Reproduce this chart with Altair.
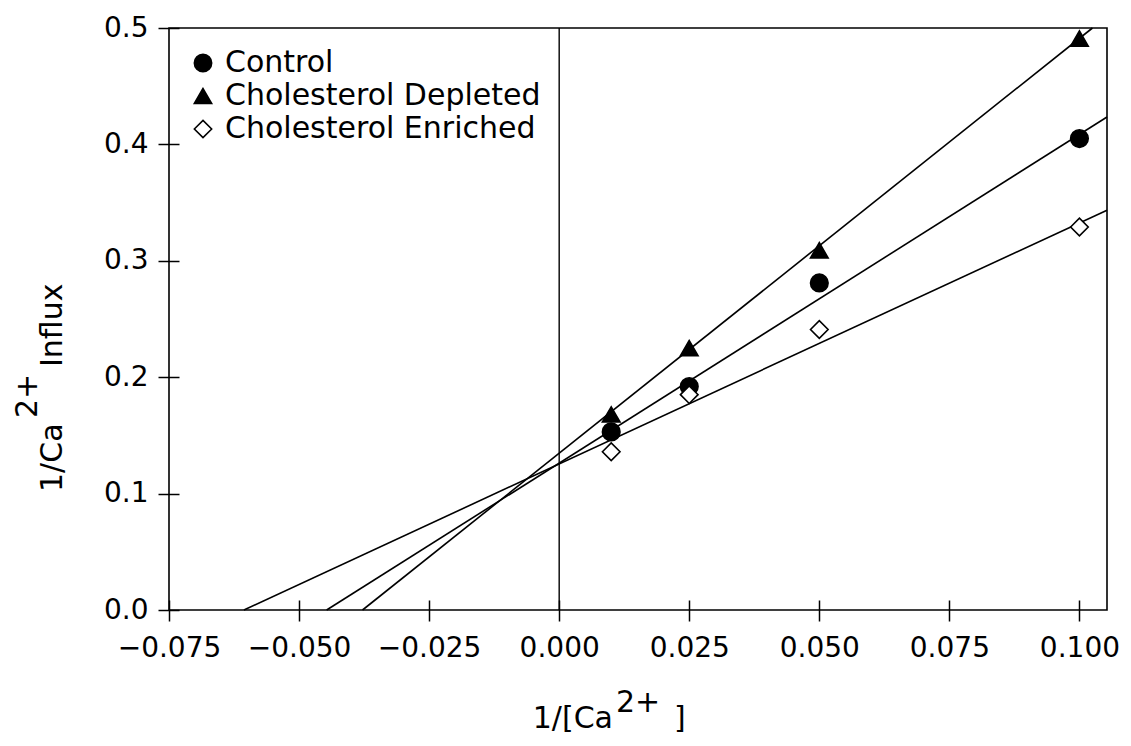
import altair as alt
import pandas as pd

# ---- data ----
series_names = ["Control", "Cholesterol Depleted", "Cholesterol Enriched"]
x_values = [0.01, 0.025, 0.05, 0.1]
control_y = [0.153, 0.192, 0.281, 0.405]
depleted_y = [0.168, 0.225, 0.309, 0.491]
enriched_y = [0.136, 0.185, 0.241, 0.329]

# fitted lines: start at the x-intercept (y = 0), end at the frame
line_x_start = [-0.0447, -0.0378, -0.0606]
line_y_start = [0.0, 0.0, 0.0]
line_x_end = [0.1053, 0.1025, 0.1053]
line_y_end = [0.4235, 0.5, 0.3435]

zero_line = [0.0]

x_ticks = [-0.075, -0.05, -0.025, 0.0, 0.025, 0.05, 0.075, 0.1]
y_ticks = [0.0, 0.1, 0.2, 0.3, 0.4, 0.5]

shapes = ["circle", "triangle-up", "diamond"]
fills = ["black", "black", "white"]
strokes = ["black", "black", "black"]

# ---- tables ----
rows = []
for name, ys in zip(series_names, [control_y, depleted_y, enriched_y]):
    for x, y in zip(x_values, ys):
        rows.append({"series": name, "x": x, "y": y})
points_df = pd.DataFrame(rows)

lrows = []
for name, x0, y0, x1, y1 in zip(series_names, line_x_start, line_y_start, line_x_end, line_y_end):
    lrows.append({"series": name, "x": x0, "y": y0})
    lrows.append({"series": name, "x": x1, "y": y1})
lines_df = pd.DataFrame(lrows)

zero_df = pd.DataFrame({"x": zero_line})

FONT = "DejaVu Sans"

x_scale = alt.Scale(domain=[-0.075, 0.1053], nice=False, zero=False)
y_scale = alt.Scale(domain=[0.0, 0.5], nice=False, zero=False)

x_axis = alt.Axis(values=x_ticks, format=".3f", title=None, grid=False, domain=False,
                  offset=-10, tickSize=21, tickWidth=1.5, tickColor="black",
                  labelFont=FONT, labelFontSize=28, labelColor="black",
                  labelPadding=13, labelFlush=False, labelOverlap=False)
y_axis = alt.Axis(values=y_ticks, format=".1f", title=None, grid=False, domain=False,
                  offset=-10, tickSize=21, tickWidth=1.5, tickColor="black",
                  labelFont=FONT, labelFontSize=28, labelColor="black",
                  labelPadding=10, labelFlush=False, labelOverlap=False)

lines = alt.Chart(lines_df).mark_line(color="black", strokeWidth=1.6).encode(
    x=alt.X("x:Q", scale=x_scale, axis=x_axis),
    y=alt.Y("y:Q", scale=y_scale, axis=y_axis),
    detail="series:N",
)

zero_rule = alt.Chart(zero_df).mark_rule(color="black", strokeWidth=1.4).encode(
    x=alt.X("x:Q", scale=x_scale),
)

legend = alt.Legend(title=None, orient="none", legendX=19, legendY=20,
                    labelFont=FONT, labelFontSize=30, labelColor="black",
                    labelLimit=0, symbolSize=300, symbolStrokeColor="black",
                    symbolStrokeWidth=1.6, labelOffset=7, rowPadding=3,
                    padding=0)

points = alt.Chart(points_df).mark_point(filled=True, strokeWidth=1.6,
                                         opacity=1, size=310).encode(
    x=alt.X("x:Q", scale=x_scale),
    y=alt.Y("y:Q", scale=y_scale),
    shape=alt.Shape("series:N", scale=alt.Scale(domain=series_names, range=shapes),
                    legend=legend, sort=series_names),
    fill=alt.Fill("series:N", scale=alt.Scale(domain=series_names, range=fills),
                  legend=legend, sort=series_names),
    stroke=alt.Stroke("series:N", scale=alt.Scale(domain=series_names, range=strokes),
                      legend=legend, sort=series_names),
)

# ---- axis titles (with super/subscripts) ----
x_title_parts = ["1/[Ca", "2+", "]"]
y_title_parts = ["1/Ca", "2+", "Influx"]


def piece(text, x, y, align, angle=0, size=30):
    return alt.Chart(alt.Data(values=[{"t": text}])).mark_text(
        font=FONT, fontSize=size, color="black", align=align,
        baseline="alphabetic", angle=angle,
    ).encode(text="t:N", x=alt.value(x), y=alt.value(y))


titles = [
    piece(x_title_parts[0], 444, 700, "right"),
    piece(x_title_parts[1], 447, 684, "left"),
    piece(x_title_parts[2], 505, 700, "left"),
    piece(y_title_parts[0], -107, 464, "left", angle=270),
    piece(y_title_parts[1], -132, 390, "left", angle=270),
    piece(y_title_parts[2], -107, 339, "left", angle=270),
]

chart = alt.layer(lines, zero_rule, points, *titles).properties(
    width=938, height=582,
    autosize=alt.AutoSizeParams(type="none"),
    padding={"left": 169, "top": 28, "right": 24, "bottom": 136},
    background="white",
).configure_view(
    stroke="black", strokeWidth=1.6
)

chart.save("out.html", embed_options={"renderer": "svg", "actions": False})
